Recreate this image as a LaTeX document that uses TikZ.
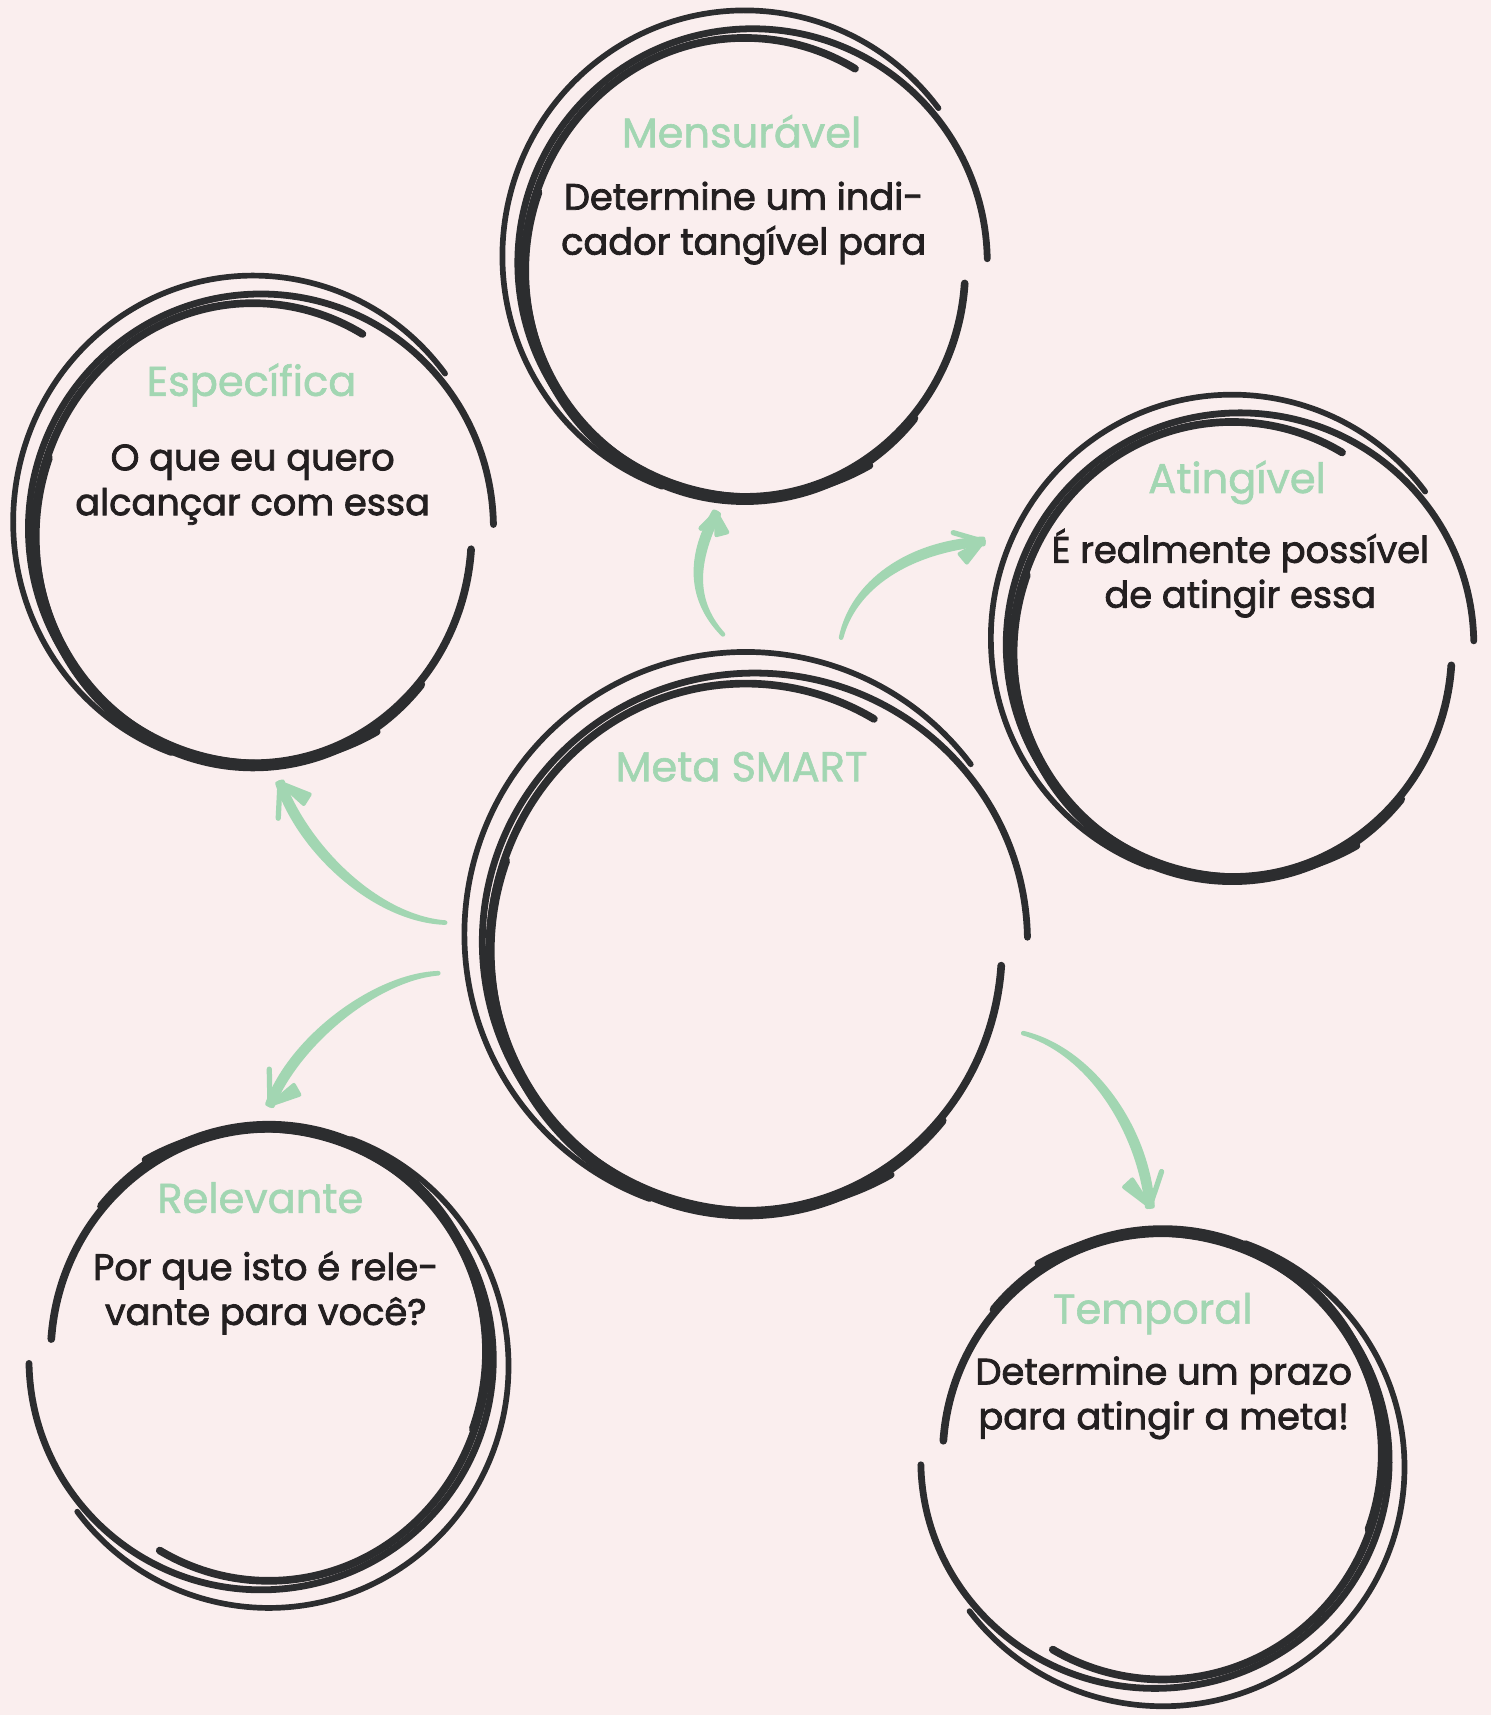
\documentclass[tikz,border=0pt]{standalone}
\usepackage{fontspec}
\setmainfont{Poppins}
\newfontfamily\titlefont{Poppins}[FakeBold=1.4]
\newfontfamily\bodyfont{Poppins}[FakeBold=2.2]
\usetikzlibrary{calc}
\definecolor{bgc}{HTML}{FAEEEE}
\definecolor{ink}{HTML}{2C2D2F}
\definecolor{leaf}{HTML}{A2D6B2}
\definecolor{txt}{HTML}{231F20}
\tikzset{
  strokeA/.style={draw=ink, line width=2.6pt, line cap=round},
  strokeB/.style={draw=ink, line width=3.1pt, line cap=round},
  strokeC/.style={draw=ink, line width=3.5pt, line cap=round},
  strokeD/.style={draw=ink, line width=4.2pt, line cap=round},
  ttl/.style={text=leaf, font=\titlefont\fontsize{19}{22}\selectfont, inner sep=0pt},
  bdy/.style={text=txt, font=\bodyfont\fontsize{16.8}{20.5}\selectfont, align=center, inner sep=0pt},
  shaftfill/.style={fill=leaf, draw=leaf, line width=2.1pt, line join=round, line cap=round},
  armthin/.style={draw=leaf, line width=2.4pt, line cap=round},
}
\newcommand{\myscrib}[5]{%
  \begin{scope}[shift={(#1,#2)}, rotate=#5, xscale=#3, yscale=-#4]
    \draw[strokeA] ([shift={(0,0.05)}]37:1.1 and 1.07) arc[start angle=37, end angle=250, x radius=1.1, y radius=1.07];
    \draw[strokeB] ([shift={(0.035,0.02)}]1:1.065 and 1.02) arc[start angle=1, end angle=300, x radius=1.065, y radius=1.02];
    \draw[strokeC] (-4:1 and 1) arc[start angle=-4, end angle=-300, x radius=1, y radius=1];
    \draw[strokeD] ([shift={(0,-0.015)}]-40:1 and 1) arc[start angle=-40, end angle=-200, x radius=1, y radius=1];
  \end{scope}}
\newcommand{\mybrush}[6]{% S C1 C2 T L R
  \path[shaftfill] (#1) .. controls ($(#2)!0.9pt!90:(#3)$) and ($(#3)!2pt!90:(#4)$) .. ($(#4)!1.2pt!-90:(#3)$)
     -- ($(#4)!1.2pt!90:(#3)$) .. controls ($(#3)!2pt!-90:(#4)$) and ($(#2)!0.9pt!-90:(#3)$) .. (#1) -- cycle;
  \draw[armthin] (#4) -- (#5);
  \path[shaftfill, line width=1.8pt] (#4) -- ($(#6)!2.6pt!90:(#4)$) -- ($(#6)!2.6pt!-90:(#4)$) -- cycle;
}
\begin{document}
\begin{tikzpicture}[x=0.5pt, y=-0.5pt]
\useasboundingbox (0,0) rectangle (1363,1568);
\fill[bgc] (0,0) rectangle (1363,1568);

% circles
\coordinate (espc) at (231.6,487.5);
\coordinate (menc) at (681,244.5);
\coordinate (atic) at (1126.7,593.8);
\coordinate (metc) at (682,866);
\coordinate (relc) at (245.7,1238.7);
\coordinate (temc) at (1063,1331.5);
\myscrib{231.6}{487.5}{199.6}{210.3}{0}
\myscrib{681}{244.5}{201.5}{209.8}{0}
\myscrib{1126.7}{593.8}{200.7}{208}{0}
\myscrib{682}{866}{234}{241}{0}
\myscrib{245.7}{1238.7}{199.3}{206.6}{180}
\myscrib{1063}{1331.5}{201}{204}{180}

% texts
\node[ttl] (espt) at (230,352) {Específica};
\node[bdy] (espb) at (231,443) {O que eu quero\\alcançar com essa};
\node[ttl] (ment) at (678,120) {Mensurável};
\node[bdy] (menb) at (680,204) {Determine um indi-\\cador tangível para};
\node[ttl] (atit) at (1131,441) {Atingível};
\node[bdy] (atib) at (1134,524) {É realmente possível\\de atingir essa};
\node[ttl] (mett) at (678,701) {Meta SMART};
\node[ttl] (relt) at (238,1095) {Relevante};
\node[bdy] (relb) at (243,1182) {Por que isto é rele-\\vante para você?};
\node[ttl] (temt) at (1054,1201) {Temporal};
\node[bdy] (temb) at (1064,1278) {Determine um prazo\\para atingir a meta!};

% arrows
\coordinate (aS) at (661,580); \coordinate (aC1) at (628,545); \coordinate (aC2) at (636,505);
\coordinate (aT) at (655,469); \coordinate (aL) at (641,483); \coordinate (aR) at (660,488);
\mybrush{aS}{aC1}{aC2}{aT}{aL}{aR}
\coordinate (bS) at (769,583); \coordinate (bC1) at (780,535); \coordinate (bC2) at (830,500);
\coordinate (bT) at (899,495); \coordinate (bL) at (871.5,487); \coordinate (bR) at (880.6,510.4);
\mybrush{bS}{bC1}{bC2}{bT}{bL}{bR}
\coordinate (cS) at (407,843.5); \coordinate (cC1) at (345,840); \coordinate (cC2) at (278,778);
\coordinate (cT) at (256,715.5); \coordinate (cL) at (254.4,748.1); \coordinate (cR) at (280.4,730.7);
\mybrush{cS}{cC1}{cC2}{cT}{cL}{cR}
\coordinate (dS) at (400.7,889.8); \coordinate (dC1) at (345,893); \coordinate (dC2) at (270,950);
\coordinate (dT) at (246.8,1010.2); \coordinate (dL) at (246.2,977.5); \coordinate (dR) at (271.2,996.4);
\mybrush{dS}{dC1}{dC2}{dT}{dL}{dR}
\coordinate (eS) at (935.5,944.6); \coordinate (eC1) at (995,960); \coordinate (eC2) at (1045,1030);
\coordinate (eT) at (1051.3,1103.1); \coordinate (eL) at (1062,1071.1); \coordinate (eR) at (1031.5,1081.8);
\mybrush{eS}{eC1}{eC2}{eT}{eL}{eR}
\end{tikzpicture}
\end{document}
